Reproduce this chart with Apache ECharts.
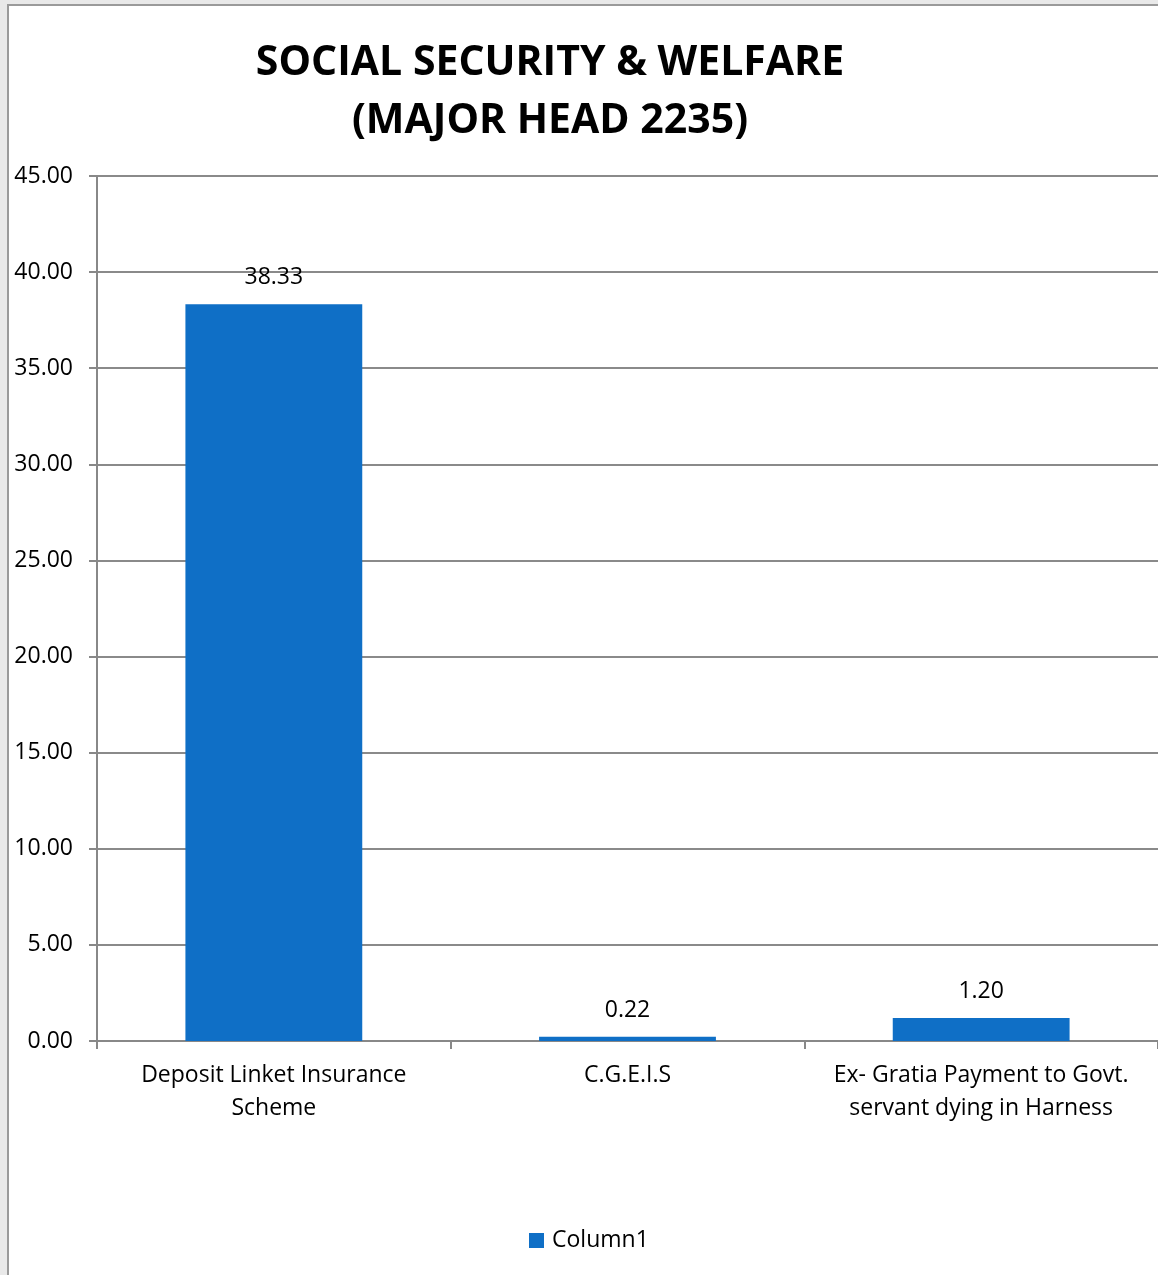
<!DOCTYPE html>
<html>
<head>
<meta charset="utf-8">
<script src="https://cdn.jsdelivr.net/npm/echarts@6/dist/echarts.min.js"></script>
<style>
  html, body { margin: 0; padding: 0; background: #e9e9e9; }
  #chart { width: 1158px; height: 1275px; }
</style>
</head>
<body>
<div id="chart"></div>
<script>
// Social security & welfare expenditure, Major Head 2235
const categories = [
  'Deposit Linket Insurance\nScheme',
  'C.G.E.I.S',
  'Ex- Gratia Payment to Govt.\nservant dying in Harness'
];
const column1 = [38.33, 0.22, 1.20];
const yTicks = { min: 0, max: 45, interval: 5 };

const FONT = '"Open Sans", "Noto Sans", sans-serif';
const chart = echarts.init(document.getElementById('chart'), null, { renderer: 'canvas' });

chart.setOption({
  backgroundColor: '#e9e9e9',
  animation: false,
  graphic: [{
    type: 'rect',
    shape: { x: 8, y: 5, width: 1160, height: 1280 },
    style: { fill: '#ffffff', stroke: '#9a9a9a', lineWidth: 2 },
    z: -10
  }],
  title: {
    text: 'SOCIAL SECURITY & WELFARE\n(MAJOR HEAD 2235)',
    left: 545,
    top: 29,
    textAlign: 'center',
    textStyle: {
      fontFamily: FONT, fontWeight: 'bold', fontSize: 41,
      lineHeight: 58, color: '#000'
    }
  },
  legend: {
    bottom: 18,
    left: 524,
    itemWidth: 15, itemHeight: 15, itemGap: 8,
    icon: 'rect',
    textStyle: { fontFamily: FONT, fontSize: 23, color: '#000', padding: [0, 0, 0, 3] },
    data: ['Column1']
  },
  grid: { left: 97, top: 176, right: -3, bottom: 234, containLabel: false },
  xAxis: {
    type: 'category',
    data: categories,
    axisLine: { lineStyle: { color: '#888', width: 2 } },
    axisTick: { show: true, length: 8, lineStyle: { color: '#888', width: 2 } },
    axisLabel: {
      fontFamily: FONT, fontSize: 23, color: '#000', lineHeight: 33,
      margin: 18, interval: 0
    }
  },
  yAxis: {
    type: 'value',
    min: yTicks.min, max: yTicks.max, interval: yTicks.interval,
    axisLine: { show: true, lineStyle: { color: '#888', width: 2 } },
    axisTick: { show: true, length: 8, lineStyle: { color: '#888', width: 2 } },
    splitLine: { lineStyle: { color: '#8a8a8a', width: 2 } },
    axisLabel: {
      fontFamily: FONT, fontSize: 23, color: '#000', margin: 24,
      formatter: v => v.toFixed(2)
    }
  },
  series: [{
    name: 'Column1',
    type: 'bar',
    data: column1,
    barWidth: '50%',
    itemStyle: { color: '#0F6FC6' },
    label: {
      show: true, position: 'top', distance: 15,
      fontFamily: FONT, fontSize: 23, color: '#000',
      formatter: p => p.value.toFixed(2)
    }
  }]
});
</script>
</body>
</html>
